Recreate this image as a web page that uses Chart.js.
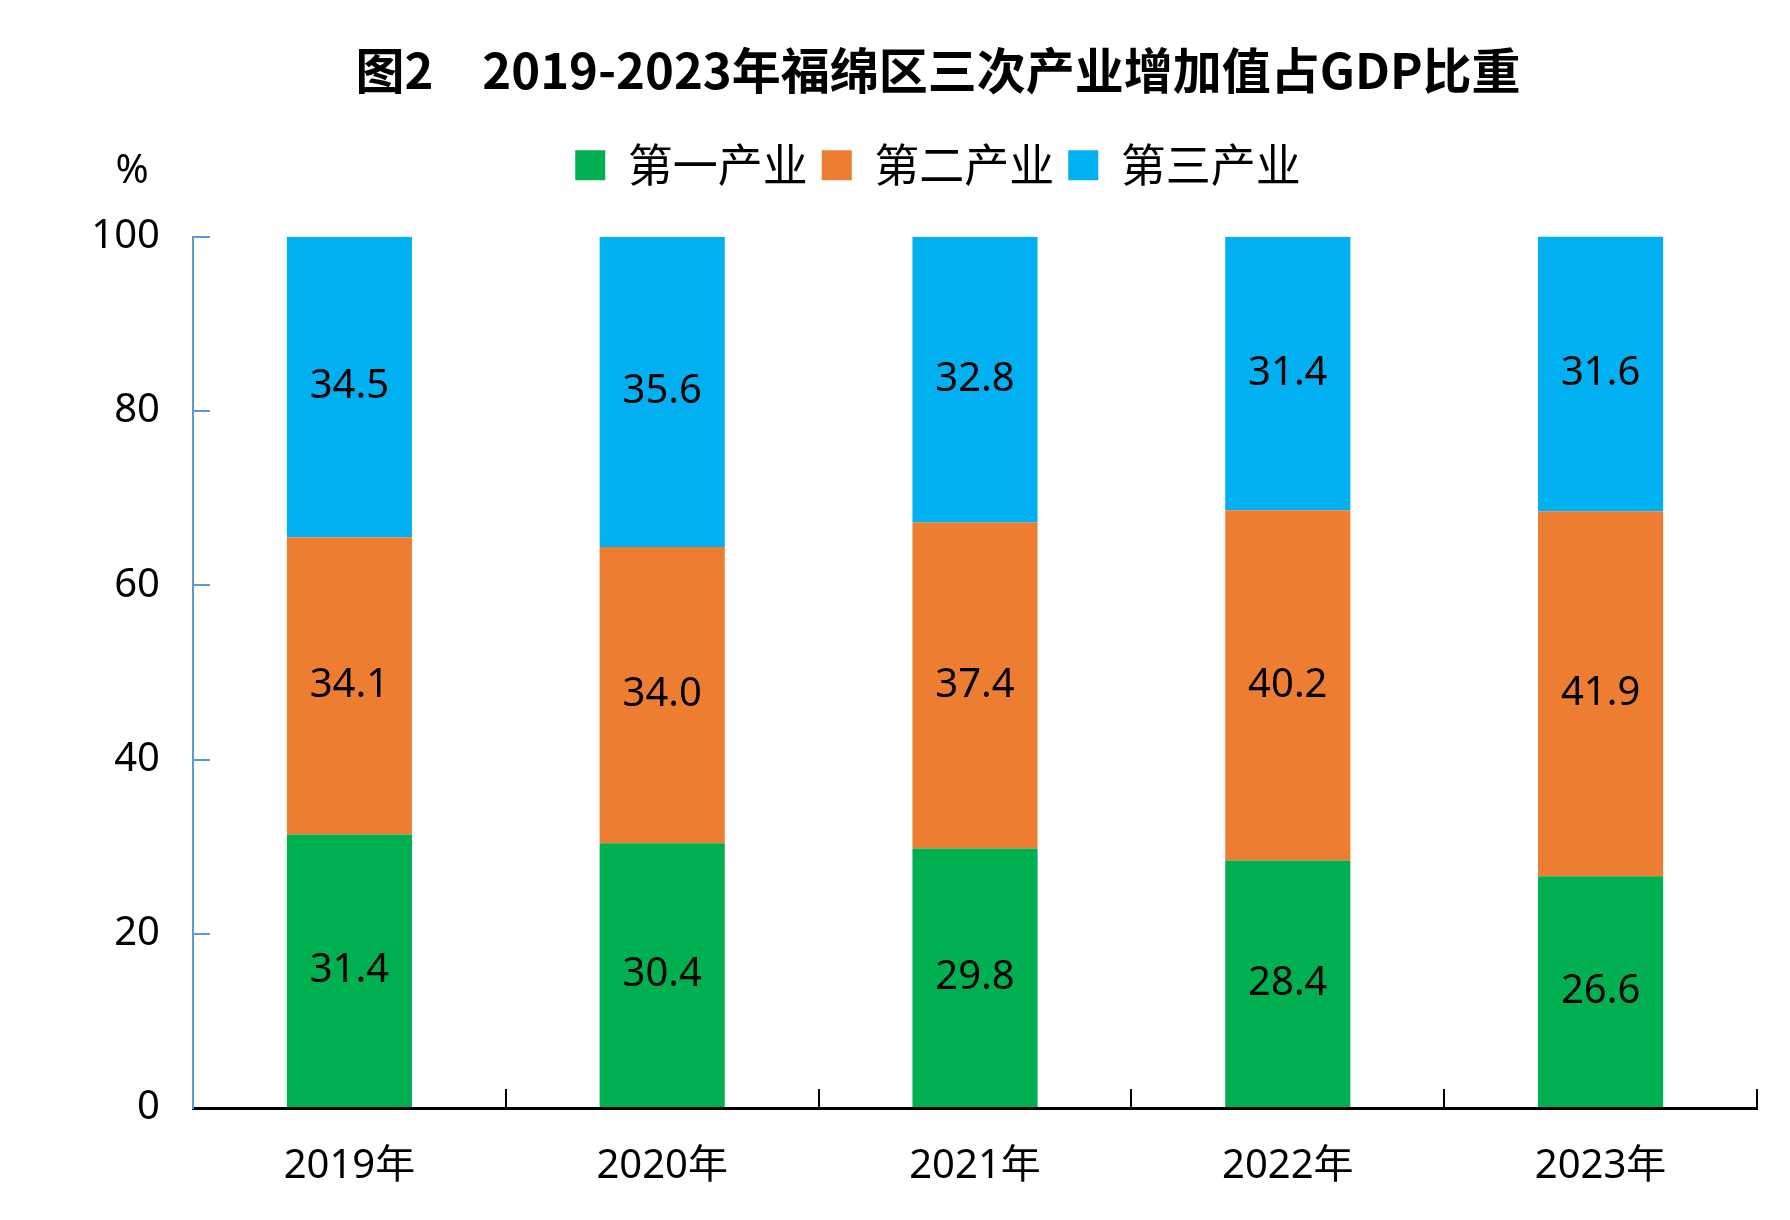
<!DOCTYPE html>
<html>
<head>
<meta charset="utf-8">
<script src="https://cdn.jsdelivr.net/npm/chart.js@4.4.1/dist/chart.umd.min.js"></script>
<style>
  html, body { margin: 0; padding: 0; background: #fff; }
  #wrap { width: 1790px; height: 1220px; }
</style>
</head>
<body>
<div id="wrap"><canvas id="gdpChart" width="1790" height="1220"></canvas></div>
<script>
const years = ['2019年', '2020年', '2021年', '2022年', '2023年'];
const primary = [31.4, 30.4, 29.8, 28.4, 26.6];
const secondary = [34.1, 34.0, 37.4, 40.2, 41.9];
const tertiary = [34.5, 35.6, 32.8, 31.4, 31.6];
const yTicks = [0, 20, 40, 60, 80, 100];

const numFont = '"Noto Sans", "Noto Sans CJK SC", sans-serif';
const cjkFont = '"Noto Sans CJK SC", sans-serif';

// 柱内数值标签（居中）
const barLabels = {
  id: 'barLabels',
  afterDatasetsDraw(chart) {
    const ctx = chart.ctx;
    ctx.save();
    ctx.font = '40px ' + numFont;
    ctx.fillStyle = '#000';
    ctx.textAlign = 'center';
    ctx.textBaseline = 'middle';
    chart.data.datasets.forEach((ds, i) => {
      chart.getDatasetMeta(i).data.forEach((bar, j) => {
        ctx.fillText(ds.data[j].toFixed(1), bar.x, (bar.y + bar.base) / 2);
      });
    });
    ctx.restore();
  }
};

// y轴单位 %
const unitLabel = {
  id: 'unitLabel',
  afterDraw(chart) {
    const ctx = chart.ctx;
    const y = chart.scales.y;
    ctx.save();
    ctx.font = '40px ' + numFont;
    ctx.fillStyle = '#000';
    ctx.textAlign = 'center';
    ctx.textBaseline = 'middle';
    ctx.fillText('%', y.right - 61, y.top - 65);
    ctx.restore();
  }
};

// 图例下方留白
const legendGap = {
  id: 'legendGap',
  beforeInit(chart) {
    const fit = chart.legend.fit;
    chart.legend.fit = function () {
      fit.bind(chart.legend)();
      this.height += 39;
    };
  }
};

new Chart(document.getElementById('gdpChart'), {
  type: 'bar',
  data: {
    labels: years,
    datasets: [
      { label: '第一产业', data: primary, backgroundColor: '#00B050', borderWidth: 0 },
      { label: '第二产业', data: secondary, backgroundColor: '#ED7D31', borderWidth: 0 },
      { label: '第三产业', data: tertiary, backgroundColor: '#00B0F0', borderWidth: 0 }
    ]
  },
  options: {
    responsive: false,
    animation: false,
    devicePixelRatio: 1,
    layout: { padding: { left: 86, right: 0, top: 0, bottom: 0 } },
    datasets: { bar: { barPercentage: 0.4, categoryPercentage: 1 } },
    scales: {
      x: {
        stacked: true,
        offset: true,
        afterFit: s => { s.height = 112; },
        grid: { offset: true, drawOnChartArea: false, drawTicks: true, tickLength: -19, color: '#000', lineWidth: 2 },
        border: { display: true, color: '#000', width: 3 },
        ticks: { color: '#000', padding: 54, font: { size: 40, family: numFont } }
      },
      y: {
        stacked: true,
        min: 0,
        max: 100,
        afterFit: s => { s.width = 107; },
        afterBuildTicks: s => { s.ticks = yTicks.map(v => ({ value: v })); },
        grid: { drawOnChartArea: false, drawTicks: true, tickLength: -17, color: '#5B9BD5', lineWidth: 2 },
        border: { display: true, color: '#5B9BD5', width: 2 },
        ticks: { color: '#000', padding: 50, font: { size: 40, family: numFont } }
      },
      // 右侧留白（不显示）
      yRight: {
        position: 'right',
        afterFit: s => { s.width = 33; },
        grid: { display: false },
        border: { display: false },
        ticks: { display: false }
      }
    },
    plugins: {
      title: {
        display: true,
        text: '图2\u30002019-2023年福绵区三次产业增加值占GDP比重',
        color: '#000',
        font: { size: 49, weight: 'bold', family: cjkFont },
        padding: { top: 41, bottom: 29 }
      },
      legend: {
        display: true,
        position: 'top',
        labels: {
          color: '#000',
          boxWidth: 30,
          boxHeight: 30,
          padding: 14,
          font: { size: 45, family: cjkFont }
        }
      },
      tooltip: { enabled: false }
    }
  },
  plugins: [barLabels, unitLabel, legendGap]
});
</script>
</body>
</html>
